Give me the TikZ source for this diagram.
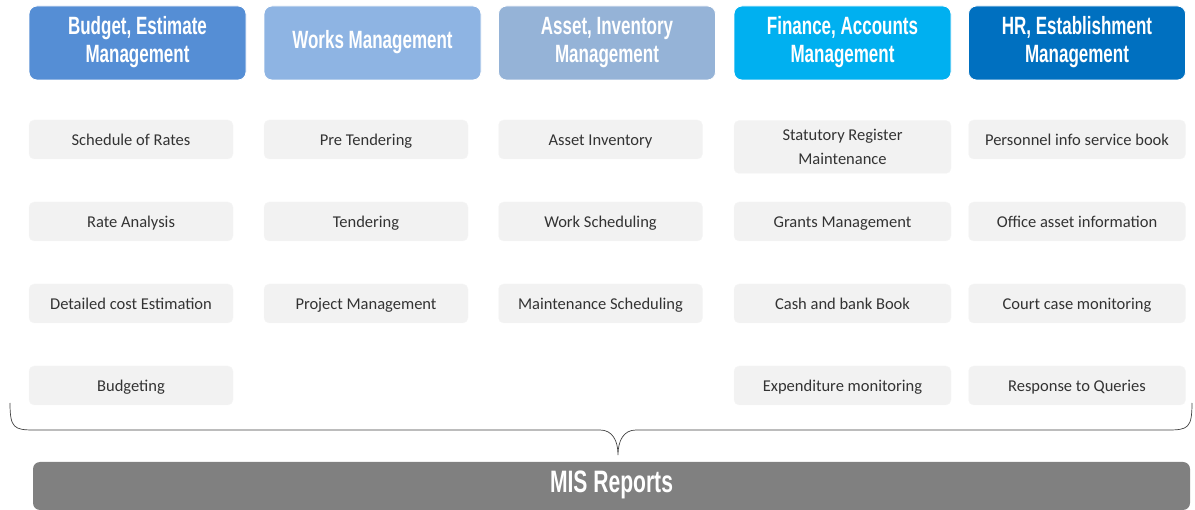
\documentclass[tikz,border=0pt]{standalone}
\usepackage{fontspec}
\usepackage{graphicx}
\setmainfont{Carlito}
\newfontfamily\hdfont{Liberation Sans}
\definecolor{cA}{HTML}{558ED5}
\definecolor{cB}{HTML}{8EB4E3}
\definecolor{cC}{HTML}{95B3D7}
\definecolor{cD}{HTML}{00B0F0}
\definecolor{cE}{HTML}{0070C0}
\definecolor{itemfill}{HTML}{F2F2F2}
\definecolor{itemtext}{HTML}{333333}
\definecolor{misgray}{HTML}{808080}
\newcommand{\hdtext}[1]{\scalebox{0.68}[1]{\begin{tabular}{@{}c@{}}#1\end{tabular}}}
\tikzset{
  header/.style={rounded corners=8pt, minimum width=217pt, minimum height=74pt,
    text=white, font=\hdfont\bfseries\fontsize{25}{28}\selectfont, inner sep=0pt, draw=white, line width=0.8pt},
  itembase/.style={rounded corners=5pt, fill=itemfill, draw=white!97!black, line width=0.4pt,
    text=itemtext, font=\fontsize{16.5}{24}\selectfont, align=center, inner sep=0pt, minimum height=39pt},
  item/.style={itembase, text height=13pt, text depth=1pt},
  narrow/.style={item, minimum width=204pt},
  wide/.style={item, minimum width=217pt},
  brace/.style={draw=black!75, line width=0.7pt}
}
\begin{document}
\begin{tikzpicture}[x=1pt,y=-1pt]
\useasboundingbox (0,0) rectangle (1195,510);
% headers
\node[header, fill=cA] (h1) at (137.5,43) {\hdtext{Budget, Estimate\\Management}};
\node[header, fill=cB] (h2) at (372.5,43) {\hdtext{Works Management}};
\node[header, fill=cC] (h3) at (607,43) {\hdtext{Asset, Inventory\\Management}};
\node[header, fill=cD] (h4) at (842.5,43) {\hdtext{Finance, Accounts\\Management}};
\node[header, fill=cE] (h5) at (1077,43) {\hdtext{HR, Establishment\\Management}};
% column 1
\node[narrow] (a1) at (131,139.5) {Schedule of Rates};
\node[narrow] (a2) at (131,221.5) {Rate Analysis};
\node[narrow] (a3) at (131,303.5) {Detailed cost Estimation};
\node[narrow] (a4) at (131,385.5) {Budgeting};
% column 2
\node[narrow] (b1) at (366,139.5) {Pre Tendering};
\node[narrow] (b2) at (366,221.5) {Tendering};
\node[narrow] (b3) at (366,303.5) {Project Management};
% column 3
\node[narrow] (c1) at (600.5,139.5) {Asset Inventory};
\node[narrow] (c2) at (600.5,221.5) {Work Scheduling};
\node[narrow] (c3) at (600.5,303.5) {Maintenance Scheduling};
% column 4
\node[itembase, minimum width=217pt, minimum height=53pt] (d1) at (842.5,147) {Statutory Register\\Maintenance};
\node[wide] (d2) at (842.5,221.5) {Grants Management};
\node[wide] (d3) at (842.5,303.5) {Cash and bank Book};
\node[wide] (d4) at (842.5,385.5) {Expenditure monitoring};
% column 5
\node[wide] (e1) at (1077,139.5) {Personnel info service book};
\node[wide] (e2) at (1077,221.5) {Office asset information};
\node[wide] (e3) at (1077,303.5) {Court case monitoring};
\node[wide] (e4) at (1077,385.5) {Response to Queries};
% brace
\coordinate (bl) at (10,403);
\coordinate (br) at (1192,403);
\coordinate (tip) at (618,455);
\draw[brace] (bl) .. controls (10,428) and (14,430) .. (34,430)
  -- (600,430) .. controls (612,430) and (618,440) .. (tip)
  .. controls (618,440) and (624,430) .. (636,430)
  -- (1168,430) .. controls (1188,430) and (1192,428) .. (br);
% MIS
\node[rounded corners=7pt, fill=misgray, minimum width=1157pt, minimum height=48pt,
  text=white, font=\hdfont\bfseries\fontsize{31}{34}\selectfont, inner sep=0pt] (mis) at (611.5,486)
  {\hdtext{MIS Reports}};
\end{tikzpicture}
\end{document}
